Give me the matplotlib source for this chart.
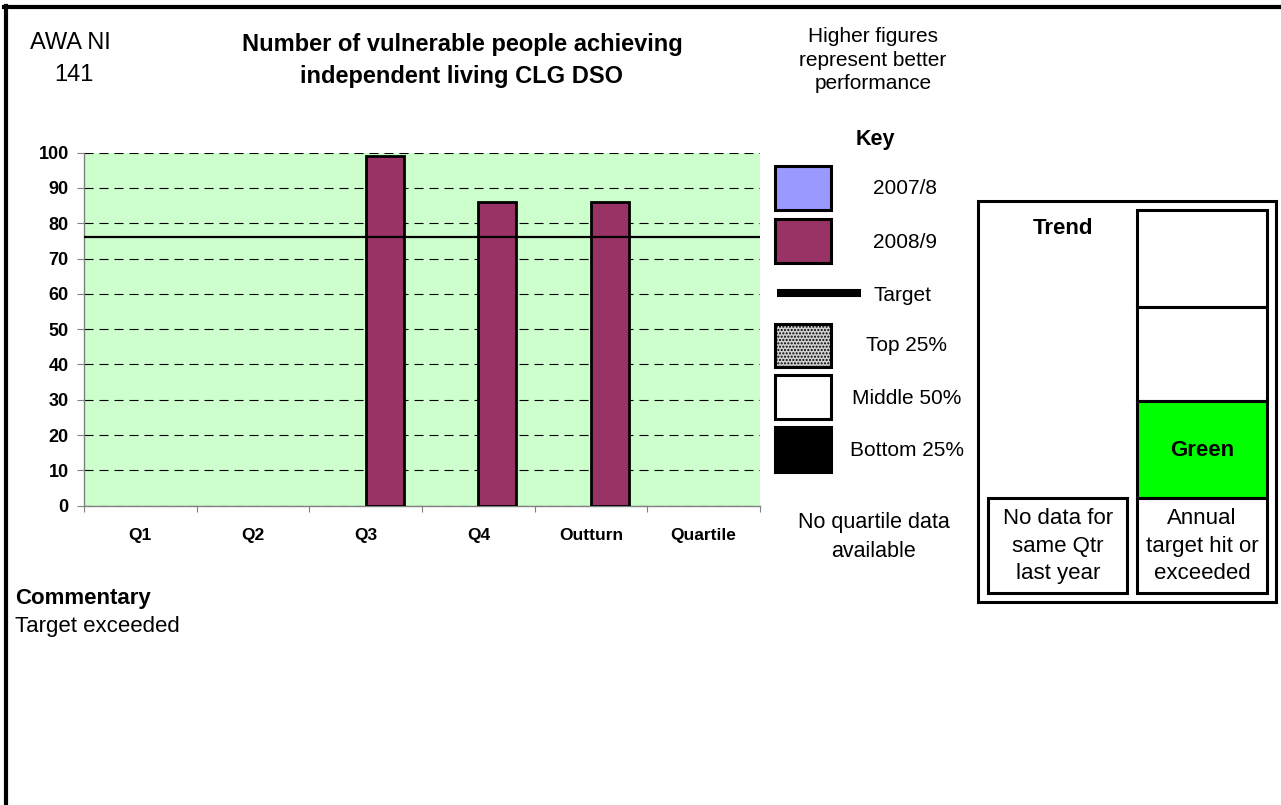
import numpy as np
import matplotlib
matplotlib.use('Agg')
import matplotlib.pyplot as plt
from matplotlib.patches import Rectangle

plt.rcParams['font.family'] = ['Liberation Sans', 'DejaVu Sans']
plt.rcParams['lines.scale_dashes'] = False
plt.rcParams['hatch.linewidth'] = 1.0

# data
categories = ['Q1', 'Q2', 'Q3', 'Q4', 'Outturn', 'Quartile']
values_0708 = [np.nan, np.nan, np.nan, np.nan, np.nan, np.nan]
values_0809 = [np.nan, np.nan, 99, 86, 86, np.nan]
target = 76
yticks = list(range(0, 101, 10))
key_labels = ['2007/8', '2008/9', 'Target', 'Top 25%', 'Middle 50%', 'Bottom 25%']

C0708 = '#9999FF'
C0809 = '#993366'
BG = '#CCFFCC'

W, H = 1281, 805
fig = plt.figure(figsize=(W / 100, H / 100), dpi=100)

# plot area in pixels: x 84..760, y 152.7..505.7
x0, x1, ytop, ybot = 84, 760, 152.7, 505.7
ax = fig.add_axes([x0 / W, 1 - ybot / H, (x1 - x0) / W, (ybot - ytop) / H])
ax.set_facecolor(BG)

n = len(categories)
xs = np.arange(n)
bw = 0.337
ax.bar(xs - bw / 2, values_0708, bw, color=C0708, edgecolor='black', linewidth=2, zorder=3)
ax.bar(xs + bw / 2, values_0809, bw, color=C0809, edgecolor='black', linewidth=2, zorder=3)
ax.axhline(target, color='black', linewidth=1.6, zorder=4)

ax.set_xlim(-0.5, n - 0.5)
ax.set_ylim(0, 100)
ax.set_yticks(yticks)
ax.set_yticklabels([str(v) for v in yticks], fontsize=13, fontweight='bold')
ax.yaxis.grid(True, color='black', linewidth=0.8, linestyle=(0, (6.5, 4.3)), zorder=1)
ax.set_axisbelow(True)
ax.tick_params(axis='y', length=5, width=0.8, color='#808080', pad=6)

ax.set_xticks(xs)
ax.set_xticklabels(categories, fontsize=12.5, fontweight='bold')
ax.set_xticks(np.arange(n + 1) - 0.5, minor=True)
ax.tick_params(axis='x', which='major', length=0, pad=16)
ax.tick_params(axis='x', which='minor', length=4, width=0.8, color='#808080')

for s in ['top', 'right']:
    ax.spines[s].set_visible(False)
for s in ['left', 'bottom']:
    ax.spines[s].set_color('#808080')
    ax.spines[s].set_linewidth(1)

# overlay in pixel coordinates
ov = fig.add_axes([0, 0, 1, 1])
ov.set_xlim(0, W)
ov.set_ylim(H, 0)
ov.axis('off')
ov.patch.set_visible(False)

# outer frame (top and left)
ov.plot([4, W], [7, 7], color='black', linewidth=3)
ov.plot([6, 6], [6, H], color='black', linewidth=3)

ov.text(70, 43, 'AWA NI', fontsize=17, ha='center', va='center')
ov.text(74, 75, '141', fontsize=17, ha='center', va='center')
ov.text(462, 60, 'Number of vulnerable people achieving\nindependent living CLG DSO',
        fontsize=17, fontweight='bold', ha='center', va='center', linespacing=1.5)
ov.text(873, 60, 'Higher figures\nrepresent better\nperformance',
        fontsize=15, ha='center', va='center', linespacing=1.32)
ov.text(875, 140, 'Key', fontsize=15.5, fontweight='bold', ha='center', va='center')

# key swatches
sw_x, sw_w = 775, 56
ov.add_patch(Rectangle((sw_x, 166), sw_w, 44, facecolor=C0708, edgecolor='black', linewidth=2.2))
ov.add_patch(Rectangle((sw_x, 219), sw_w, 44, facecolor=C0809, edgecolor='black', linewidth=2.2))
ov.plot([777, 861], [293, 293], color='black', linewidth=5.8, solid_capstyle='butt')
ov.add_patch(Rectangle((sw_x, 324), sw_w, 43, facecolor='#d0d0d0', edgecolor='black',
                       linewidth=2.2, hatch='.....'))
ov.add_patch(Rectangle((sw_x, 375), sw_w, 44, facecolor='white', edgecolor='black', linewidth=2.2))
ov.add_patch(Rectangle((sw_x, 427), sw_w, 45, facecolor='black', edgecolor='black', linewidth=2.2))
key_pos = [(905, 189), (905, 242), (903, 295), (907, 345), (907, 398), (907, 450)]
for lab, (kx, ky) in zip(key_labels, key_pos):
    ov.text(kx, ky, lab, fontsize=15, ha='center', va='center')

ov.text(874, 537, 'No quartile data\navailable', fontsize=15.5, ha='center', va='center',
        linespacing=1.55)

# trend box
ov.add_patch(Rectangle((978, 201), 298, 401, facecolor='none', edgecolor='black', linewidth=2.2))
ov.text(1063, 228, 'Trend', fontsize=16, fontweight='bold', ha='center', va='center')
ov.add_patch(Rectangle((1137, 210), 130, 97, facecolor='white', edgecolor='black', linewidth=2.2))
ov.add_patch(Rectangle((1137, 307), 130, 94, facecolor='white', edgecolor='black', linewidth=2.2))
ov.add_patch(Rectangle((1137, 401), 130, 97, facecolor='#00FF00', edgecolor='black', linewidth=2.2))
ov.text(1202, 450, 'Green', fontsize=16, fontweight='bold', ha='center', va='center')
ov.add_patch(Rectangle((1137, 498), 130, 95, facecolor='white', edgecolor='black', linewidth=2.2))
ov.text(1202, 546, 'Annual\ntarget hit or\nexceeded', fontsize=16, ha='center', va='center',
        linespacing=1.4)
ov.add_patch(Rectangle((988, 498), 139, 95, facecolor='white', edgecolor='black', linewidth=2.2))
ov.text(1058, 546, 'No data for\nsame Qtr\nlast year', fontsize=16, ha='center', va='center',
        linespacing=1.4)

# commentary
ov.text(15, 598, 'Commentary', fontsize=16, fontweight='bold', ha='left', va='center')
ov.text(15, 626, 'Target exceeded', fontsize=16, ha='left', va='center')

fig.savefig('out.png', dpi=100)
